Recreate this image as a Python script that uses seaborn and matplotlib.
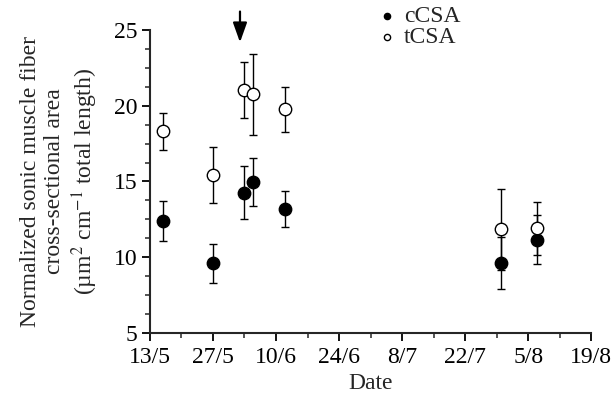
import pandas as pd
import matplotlib
matplotlib.use('Agg')
from matplotlib import pyplot as plt
from matplotlib.ticker import MultipleLocator
import seaborn as sns

# sampling dates (day/month) and group means +/- error
sample_dates = ['16/5', '27/5', '3/6', '5/6', '12/6', '30/7', '7/8']
ccsa_mean = [12.4, 9.6, 14.26, 14.95, 13.2, 9.6, 11.14]
ccsa_err = [1.3, 1.28, 1.77, 1.58, 1.18, 1.72, 1.62]
tcsa_mean = [18.3, 15.4, 21.06, 20.76, 19.77, 11.84, 11.9]
tcsa_err = [1.2, 1.85, 1.85, 2.68, 1.48, 2.66, 1.73]
tick_labels = ['13/5', '27/5', '10/6', '24/6', '8/7', '22/7', '5/8', '19/8']
arrow_date = '2/6'
year = 2009


def to_date(s):
    return pd.to_datetime(f'{s}/{year}', format='%d/%m/%Y')


df = pd.DataFrame({
    'date': [to_date(d) for d in sample_dates],
    'cCSA': ccsa_mean, 'cCSA_err': ccsa_err,
    'tCSA': tcsa_mean, 'tCSA_err': tcsa_err,
})

sns.set_style('ticks')
plt.rcParams['font.family'] = ['Liberation Serif', 'DejaVu Serif']
plt.rcParams['mathtext.fontset'] = 'stix'
fs = 17
plt.rcParams['font.size'] = fs

fig = plt.figure(figsize=(6.12, 4.05), dpi=100)
ax = fig.add_axes([0.245, 0.178, 0.721, 0.748])

for col in ['cCSA', 'tCSA']:
    ax.errorbar(df['date'], df[col], yerr=df[col + '_err'], fmt='none',
                ecolor='black', elinewidth=1.0, capsize=3, capthick=1.0, zorder=2)

sns.scatterplot(data=df, x='date', y='cCSA', ax=ax, color='black', edgecolor='black',
                s=80, linewidth=1.0, label='cCSA', zorder=3)
sns.scatterplot(data=df, x='date', y='tCSA', ax=ax, color='white', edgecolor='black',
                s=80, linewidth=1.0, label='tCSA', zorder=3)

ticks = [to_date(t) for t in tick_labels]
ax.set_xlim(ticks[0], ticks[-1])
ax.set_xticks(ticks)
ax.set_xticklabels(tick_labels)
ax.set_xticks([t + pd.Timedelta(days=7) for t in ticks[:-1]], minor=True)

ax.set_ylim(5, 25)
ax.yaxis.set_major_locator(MultipleLocator(5))
ax.yaxis.set_minor_locator(MultipleLocator(1.25))

ax.set_xlabel('Date', fontsize=fs, labelpad=4)
ax.set_ylabel('Normalized sonic muscle fiber\ncross-sectional area\n(µm$^2$ cm$^{-1}$ total length)',
              fontsize=fs, linespacing=1.2, labelpad=10)

sns.despine(ax=ax)
for side in ['left', 'bottom']:
    ax.spines[side].set_linewidth(1.5)
ax.tick_params(which='major', length=6, width=1.3, labelsize=fs, colors='black')
ax.tick_params(which='minor', length=3.5, width=1.1)
ax.tick_params(axis='y', pad=3)
ax.tick_params(axis='x', pad=4)

# arrow marking the event date
ad = to_date(arrow_date)
ax.annotate('', xy=(ad, 24.0), xytext=(ad, 26.4), annotation_clip=False,
            arrowprops=dict(arrowstyle='-|>,head_width=0.25,head_length=0.7',
                            color='black', lw=1.6))

leg = ax.legend(loc='upper left', bbox_to_anchor=(0.49, 1.113), frameon=False,
                markerscale=0.5, handlelength=1.0, handletextpad=0.2,
                labelspacing=0.0, fontsize=fs, borderaxespad=0)

fig.savefig('out.png', dpi=100)
